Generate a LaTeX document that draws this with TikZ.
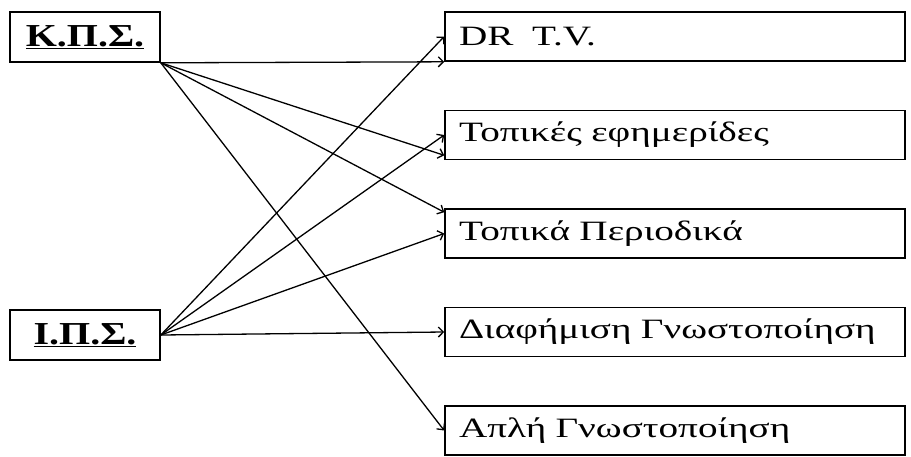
\documentclass[tikz,border=0pt]{standalone}
\usepackage{fontspec}
\setmainfont{Liberation Serif}[FakeStretch=1.4]
\newfontfamily\headfont{Liberation Serif}[FakeStretch=1.25]
\usetikzlibrary{arrows.meta,positioning}

\begin{document}
\begin{tikzpicture}[x=1pt,y=1pt,>={Straight Barb[length=5pt,width=10pt]},node distance=98.5pt,on grid,
  src/.style={draw,line width=1.6pt,minimum width=150pt,minimum height=50pt,inner sep=0pt,font=\headfont\bfseries\fontsize{32}{32}\selectfont},
  dst/.style={draw,line width=1.6pt,text width=432pt,inner xsep=14pt,minimum height=49pt,align=left,font=\fontsize{28}{28}\selectfont}]
   \useasboundingbox (0,0) rectangle (911,-456);
   \node[dst] (DRTV) at (675,-36.5) {DR\ \ T.V.};
   \node[dst] (EF) [below=of DRTV] {Τοπικές εφημερίδες};
   \node[dst] (PER) [below=of EF] {Τοπικά Περιοδικά};
   \node[dst] (DIA) [below=of PER] {Διαφήμιση Γνωστοποίηση};
   \node[dst] (APL) [below=of DIA] {Απλή Γνωστοποίηση};

   \node[src] (KPS) at (85,-37) {\underline{Κ.Π.Σ.}};
   \node[src] (IPS) at (85,-335) {\underline{Ι.Π.Σ.}};
    \path[->,line width=1.3pt]
    (KPS.south east) edge (DRTV.south west)
         edge ([yshift=5pt]EF.south west)
         edge ([yshift=-4pt]PER.north west)
         edge (APL.west)
    (IPS.east) edge (DRTV.west)
         edge (EF.west)
         edge (PER.west)
         edge (DIA.west);
\end{tikzpicture}
\end{document}
